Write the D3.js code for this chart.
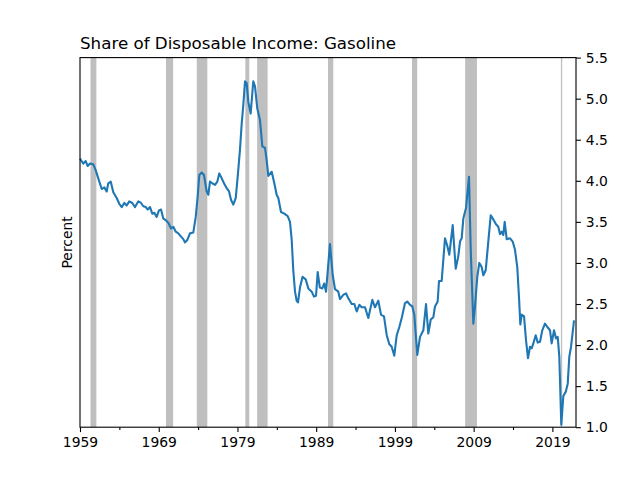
<!DOCTYPE html>
<html>
<head>
<meta charset="utf-8">
<script src="https://cdn.jsdelivr.net/npm/d3@7"></script>
<style>
  body { margin: 0; background: #fff; }
  svg text { font-family: "DejaVu Sans", sans-serif; fill: #000; }
</style>
</head>
<body>
<script>
// chart values
var title = "Share of Disposable Income: Gasoline";
var yLabel = "Percent";

// decimal year of each reading
var years = [
  1959.00, 1959.13, 1959.42, 1959.72, 1959.98, 1960.27, 1960.69, 1960.99, 1961.32, 1961.76,
  1962.09, 1962.39, 1962.59, 1962.90, 1963.23, 1963.66, 1963.99, 1964.30, 1964.63, 1964.93,
  1965.26, 1965.64, 1965.99, 1966.41, 1966.75, 1967.04, 1967.35, 1967.60, 1967.89, 1968.18,
  1968.44, 1968.74, 1969.03, 1969.29, 1969.58, 1969.89, 1970.22, 1970.56, 1970.85, 1971.16,
  1971.49, 1971.83, 1972.12, 1972.34, 1972.63, 1972.97, 1973.39, 1973.70, 1973.95, 1974.15,
  1974.46, 1974.75, 1975.09, 1975.30, 1975.51, 1975.80, 1976.15, 1976.44, 1976.69, 1977.00,
  1977.29, 1977.63, 1977.93, 1978.18, 1978.47, 1978.78, 1979.03, 1979.32, 1979.54, 1979.74,
  1979.96, 1980.17, 1980.38, 1980.68, 1981.01, 1981.23, 1981.52, 1981.86, 1982.16, 1982.50,
  1982.71, 1982.92, 1983.35, 1983.68, 1983.98, 1984.19, 1984.53, 1984.95, 1985.38, 1985.67,
  1985.89, 1986.09, 1986.31, 1986.52, 1986.69, 1986.94, 1987.26, 1987.67, 1988.00, 1988.43,
  1988.72, 1988.98, 1989.19, 1989.46, 1989.78, 1990.02, 1990.25, 1990.75, 1991.10, 1991.39,
  1991.81, 1992.02, 1992.44, 1992.79, 1993.08, 1993.51, 1993.84, 1994.15, 1994.48, 1994.78,
  1995.20, 1995.62, 1996.13, 1996.47, 1996.89, 1997.23, 1997.61, 1997.96, 1998.29, 1998.59,
  1998.92, 1999.23, 1999.56, 1999.86, 2000.28, 2000.57, 2000.92, 2001.21, 2001.46, 2001.84,
  2002.19, 2002.61, 2002.95, 2003.24, 2003.55, 2003.88, 2004.09, 2004.43, 2004.60, 2004.94,
  2005.36, 2005.65, 2005.91, 2006.34, 2006.72, 2007.05, 2007.27, 2007.48, 2007.69, 2008.03,
  2008.41, 2008.63, 2008.96, 2009.17, 2009.46, 2009.72, 2010.02, 2010.23, 2010.53, 2010.86,
  2011.17, 2011.50, 2011.84, 2012.13, 2012.35, 2012.56, 2012.77, 2012.94, 2013.20, 2013.62,
  2013.96, 2014.25, 2014.54, 2014.76, 2014.93, 2015.10, 2015.40, 2015.65, 2015.90, 2016.16,
  2016.37, 2016.58, 2016.88, 2017.14, 2017.43, 2017.72, 2018.06, 2018.36, 2018.70, 2018.91,
  2019.21, 2019.46, 2019.68, 2019.88, 2020.13, 2020.39, 2020.69, 2020.95, 2021.15, 2021.37,
  2021.75
];

// gasoline spending as percent of disposable income
var share = [
  4.27, 4.25, 4.21, 4.24, 4.18, 4.21, 4.20, 4.13, 4.03, 3.90,
  3.92, 3.87, 3.97, 3.99, 3.86, 3.79, 3.72, 3.68, 3.73, 3.70,
  3.75, 3.73, 3.68, 3.75, 3.73, 3.69, 3.68, 3.65, 3.68, 3.60,
  3.61, 3.56, 3.64, 3.65, 3.54, 3.52, 3.49, 3.42, 3.44, 3.38,
  3.36, 3.32, 3.29, 3.25, 3.28, 3.36, 3.37, 3.56, 3.81, 4.07,
  4.10, 4.07, 3.87, 3.83, 3.99, 3.97, 3.95, 3.99, 4.09, 4.03,
  3.97, 3.91, 3.87, 3.77, 3.71, 3.79, 4.05, 4.38, 4.70, 4.92,
  5.21, 5.19, 4.96, 4.82, 5.21, 5.15, 4.88, 4.74, 4.42, 4.40,
  4.25, 4.06, 4.11, 3.97, 3.83, 3.79, 3.62, 3.60, 3.57, 3.50,
  3.28, 2.91, 2.65, 2.54, 2.52, 2.70, 2.83, 2.80, 2.69, 2.65,
  2.59, 2.60, 2.89, 2.70, 2.69, 2.75, 2.65, 3.23, 2.85, 2.68,
  2.65, 2.56, 2.61, 2.63, 2.57, 2.50, 2.50, 2.41, 2.49, 2.46,
  2.46, 2.33, 2.55, 2.46, 2.54, 2.37, 2.35, 2.12, 2.01, 1.98,
  1.87, 2.12, 2.22, 2.33, 2.51, 2.53, 2.49, 2.47, 2.37, 1.88,
  2.10, 2.18, 2.50, 2.14, 2.31, 2.34, 2.47, 2.53, 2.78, 2.78,
  3.30, 3.21, 3.10, 3.46, 2.93, 3.08, 3.26, 3.30, 3.54, 3.67,
  4.05, 3.16, 2.26, 2.47, 2.83, 3.00, 2.95, 2.85, 2.91, 3.26,
  3.58, 3.53, 3.47, 3.44, 3.35, 3.38, 3.34, 3.50, 3.29, 3.30,
  3.26, 3.16, 2.95, 2.58, 2.25, 2.37, 2.35, 2.06, 1.84, 1.98,
  1.96, 2.02, 2.12, 2.03, 2.04, 2.18, 2.26, 2.22, 2.18, 2.02,
  2.18, 2.08, 2.10, 1.86, 1.03, 1.38, 1.43, 1.53, 1.86, 1.98,
  2.30
];

// recession start and end (decimal years)
var recStart = [1960.33, 1969.92, 1973.83, 1980.00, 1981.50, 1990.50, 2001.17, 2007.92, 2020.08];
var recEnd   = [1961.08, 1970.83, 1975.17, 1980.50, 1982.83, 1991.17, 2001.83, 2009.42, 2020.25];

// tick labels
var xTicks = [1959, 1969, 1979, 1989, 1999, 2009, 2019];
var xMinor = [1964, 1974, 1984, 1994, 2004, 2014];
var yTicks = [1.0, 1.5, 2.0, 2.5, 3.0, 3.5, 4.0, 4.5, 5.0, 5.5];

// matplotlib default figure layout
var w = 640;
var h = 480;
var padL = 80, padR = 576, padT = 57.6, padB = 427.2;

function parseData(xs, ys) {
  var arr = [];
  for (var i = 0; i < xs.length; i++) {
    arr.push({ year: xs[i], value: ys[i] });
  }
  return arr;
}

var data = parseData(years, share);
var recessions = recStart.map(function(s, i) { return { start: s, end: recEnd[i] }; });

var svg = d3.select("body")
            .append("svg")
            .attr("width", w)
            .attr("height", h);

var x = d3.scaleLinear()
          .domain([1959, 2022])
          .range([padL, padR]);

var y = d3.scaleLinear()
          .domain([1.0, 5.5])
          .range([padB, padT]);

// recession shading
svg.append("g")
   .selectAll("rect")
   .data(recessions)
   .enter().append("rect")
   .attr("x", d => x(d.start))
   .attr("width", d => x(d.end) - x(d.start))
   .attr("y", padT)
   .attr("height", padB - padT)
   .attr("fill", "#bfbfbf");

// the series
var line = d3.line()
             .x(d => x(d.year))
             .y(d => y(d.value));

svg.append("path")
   .datum(data)
   .attr("fill", "none")
   .attr("stroke", "#1f77b4")
   .attr("stroke-width", 2.1)
   .attr("stroke-linejoin", "round")
   .attr("stroke-linecap", "butt")
   .attr("d", line);

// x axis, major and minor ticks
svg.append("g")
   .attr("transform", "translate(0," + padB + ")")
   .call(d3.axisBottom(x)
           .tickValues(xTicks)
           .tickFormat(d3.format("d"))
           .tickSize(4.9)
           .tickPadding(4.9));

svg.append("g")
   .attr("transform", "translate(0," + padB + ")")
   .call(d3.axisBottom(x)
           .tickValues(xMinor)
           .tickFormat("")
           .tickSize(2.8));

// y axis on the right
svg.append("g")
   .attr("transform", "translate(" + padR + ",0)")
   .call(d3.axisRight(y)
           .tickValues(yTicks)
           .tickFormat(d3.format(".1f"))
           .tickSize(4.9)
           .tickPadding(4.9));

svg.selectAll(".tick text")
   .style("font-size", "13.9px")
   .style("font-family", "DejaVu Sans, sans-serif");
svg.selectAll(".tick line").attr("stroke-width", 1.1);
svg.selectAll(".domain").remove();

// frame
svg.append("rect")
   .attr("x", padL)
   .attr("y", padT)
   .attr("width", padR - padL)
   .attr("height", padB - padT)
   .attr("fill", "none")
   .attr("stroke", "#000")
   .attr("stroke-width", 1.1);

// title
svg.append("text")
   .attr("x", padL)
   .attr("y", padT - 8.5)
   .style("font-size", "16.7px")
   .text(title);

// y label on the left side
svg.append("text")
   .attr("transform", "translate(" + 72 + "," + ((padT + padB) / 2) + ") rotate(-90)")
   .attr("text-anchor", "middle")
   .style("font-size", "13.9px")
   .text(yLabel);
</script>
</body>
</html>
